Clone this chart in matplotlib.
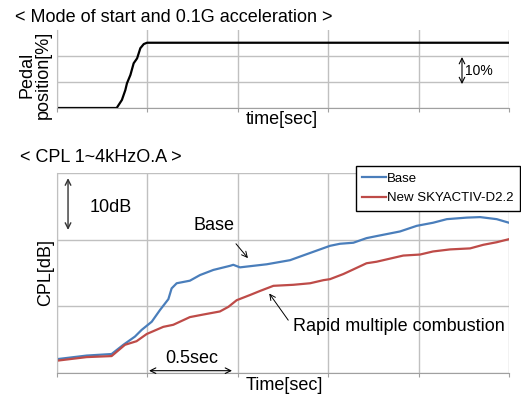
import matplotlib
matplotlib.use("Agg")
import matplotlib.pyplot as plt

plt.rcParams['font.family'] = ['Liberation Sans', 'DejaVu Sans']

# pedal position during start + 0.1G acceleration
pedal_t = [0, 0.330, 0.359, 0.378, 0.387, 0.406, 0.424, 0.443, 0.461, 0.480, 0.498, 2.5]
pedal_pct = [0, 0, 3.1, 6.9, 9.5, 12.7, 17.2, 19.1, 23.0, 24.6, 25.1, 25.1]

# CPL 1~4kHz overall
base_t = [0, 0.164, 0.302, 0.367, 0.431, 0.468, 0.524, 0.570, 0.616, 0.634, 0.662,
          0.735, 0.791, 0.865, 0.957, 0.975, 1.012, 1.086, 1.160, 1.289, 1.344,
          1.51, 1.565, 1.639, 1.712, 1.768, 1.897, 1.99, 2.08, 2.156, 2.266, 2.34,
          2.432, 2.50]
base_db = [42.7, 43.4, 43.7, 45.5, 47.1, 48.4, 50.0, 52.3, 54.4, 56.5, 57.5,
           58.0, 59.1, 60.1, 60.9, 61.1, 60.6, 60.9, 61.2, 62.0, 62.7,
           64.8, 65.2, 65.4, 66.3, 66.7, 67.6, 68.7, 69.3, 70.0, 70.3, 70.4,
           70.0, 69.3]
new_t = [0, 0.164, 0.302, 0.376, 0.44, 0.496, 0.588, 0.643, 0.735, 0.809, 0.901,
         0.948, 0.994, 1.067, 1.123, 1.197, 1.307, 1.40, 1.473, 1.51, 1.584,
         1.639, 1.712, 1.768, 1.915, 2.008, 2.08, 2.174, 2.285, 2.358, 2.432, 2.50]
new_db = [42.4, 43.1, 43.3, 45.5, 46.2, 47.6, 49.0, 49.4, 50.9, 51.4, 52.0,
          52.9, 54.2, 55.2, 56.0, 57.0, 57.2, 57.5, 58.1, 58.3, 59.3,
          60.2, 61.4, 61.7, 62.9, 63.1, 63.7, 64.1, 64.3, 65.0, 65.5, 66.1]

x_ticks = [0, 0.5, 1.0, 1.5, 2.0, 2.5]
grid_c = '#c0c0c0'
W, H = 521, 396

fig = plt.figure(figsize=(W / 100, H / 100), dpi=100)


def px_box(left, top, right, bottom):
    return [left / W, 1 - bottom / H, (right - left) / W, (bottom - top) / H]


def style_axes(ax):
    ax.set_xlim(0, 2.5)
    ax.set_xticks(x_ticks)
    ax.tick_params(axis='x', direction='out', length=3, color='#a0a0a0',
                   labelbottom=False)
    ax.tick_params(axis='y', length=0, labelleft=False)
    ax.grid(True, color=grid_c, linewidth=1.0)
    for s in ['top', 'right']:
        ax.spines[s].set_visible(False)
    ax.spines['left'].set_color(grid_c)
    ax.spines['bottom'].set_color('#a0a0a0')
    ax.set_axisbelow(True)


# --- pedal position ---
ax1 = fig.add_axes(px_box(57, 30, 509, 108))
style_axes(ax1)
ax1.set_ylim(0, 30)
ax1.set_yticks([0, 10, 20])
ax1.plot(pedal_t, pedal_pct, color='black', linewidth=1.6)
ax1.annotate('', xy=(2.24, 9.2), xytext=(2.24, 19.6),
             arrowprops=dict(arrowstyle='<->', color='black', lw=0.8,
                             shrinkA=0, shrinkB=0))
ax1.text(2.255, 14.2, '10%', fontsize=10, va='center', ha='left')

fig.text(15 / W, 1 - 22 / H, '< Mode of start and 0.1G acceleration >',
         fontsize=13, va='baseline', ha='left')
fig.text(35.5 / W, 1 - 75 / H, 'Pedal\nposition[%]', rotation=90, fontsize=13,
         ha='center', va='center', linespacing=0.95)
fig.text(282 / W, 1 - 120 / H, 'time[sec]', fontsize=13, ha='center', va='center')

# --- CPL ---
ax2 = fig.add_axes(px_box(57, 173, 509, 373))
style_axes(ax2)
ax2.set_ylim(40, 79)
ax2.set_yticks([40, 53, 66, 79])
ax2.plot(base_t, base_db, color='#4a7ebb', linewidth=1.6, label='Base')
ax2.plot(new_t, new_db, color='#be4b48', linewidth=1.6, label='New SKYACTIV-D2.2')

ax2.annotate('', xy=(0.061, 67.9), xytext=(0.061, 78.0),
             arrowprops=dict(arrowstyle='<->', color='#333333', lw=1.0,
                             shrinkA=0, shrinkB=0))
ax2.text(0.18, 72.2, '10dB', fontsize=13, va='center', ha='left')

ax2.text(0.868, 68.7, 'Base', fontsize=13, va='center', ha='center')
ax2.annotate('', xy=(1.056, 62.4), xytext=(0.99, 65.2),
             arrowprops=dict(arrowstyle='->', color='black', lw=0.7,
                             shrinkA=0, shrinkB=0))

ax2.text(1.303, 49.0, 'Rapid multiple combustion', fontsize=13, va='center',
         ha='left')
ax2.annotate('', xy=(1.174, 55.5), xytext=(1.279, 50.3),
             arrowprops=dict(arrowstyle='->', color='black', lw=0.7,
                             shrinkA=0, shrinkB=0))

ax2.text(0.745, 42.9, '0.5sec', fontsize=13, va='center', ha='center')
ax2.annotate('', xy=(0.509, 40.45), xytext=(0.968, 40.45),
             arrowprops=dict(arrowstyle='<->', color='black', lw=0.8,
                             shrinkA=0, shrinkB=0))

fig.text(20 / W, 1 - 162 / H, '< CPL 1~4kHzO.A >', fontsize=13, va='baseline',
         ha='left')
fig.text(46 / W, 1 - 273 / H, 'CPL[dB]', rotation=90, fontsize=13,
         ha='center', va='center')
fig.text(284 / W, 1 - 386 / H, 'Time[sec]', fontsize=13, ha='center', va='center')

leg = ax2.legend(loc='upper right', bbox_to_anchor=(520 / W, 1 - 166 / H),
                 bbox_transform=fig.transFigure, borderaxespad=0, fontsize=9.5,
                 handlelength=1.75, handletextpad=0.1, labelspacing=0.55,
                 borderpad=0.5, fancybox=False, framealpha=1, edgecolor='black')
leg.get_frame().set_linewidth(1.0)

fig.savefig('out.png', dpi=100)
